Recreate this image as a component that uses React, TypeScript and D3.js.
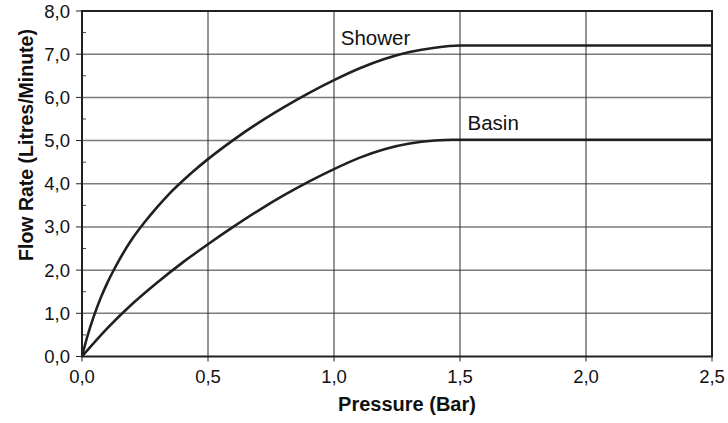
import React, { useRef, useEffect } from 'react';
import * as d3 from 'd3';

// Shower curve (pressure in bar, flow in l/min)
const showerPressure = [0, 0.02, 0.045, 0.073, 0.1, 0.124, 0.16, 0.2, 0.25, 0.3, 0.35, 0.4, 0.45, 0.5, 0.6, 0.7, 0.8, 0.9, 1.0, 1.1, 1.2, 1.3, 1.4, 1.5, 2.5];
const showerFlow = [0, 0.44, 0.9, 1.34, 1.7, 1.98, 2.36, 2.73, 3.12, 3.47, 3.79, 4.07, 4.33, 4.57, 5.01, 5.41, 5.77, 6.1, 6.4, 6.67, 6.89, 7.05, 7.15, 7.2, 7.2];

// Basin curve
const basinPressure = [0, 0.1, 0.2, 0.3, 0.4, 0.5, 0.6, 0.7, 0.8, 0.9, 1.0, 1.1, 1.2, 1.3, 1.4, 1.47, 2.5];
const basinFlow = [0, 0.65, 1.22, 1.72, 2.18, 2.6, 3.0, 3.38, 3.73, 4.05, 4.34, 4.6, 4.8, 4.93, 5.0, 5.02, 5.02];

const xTicks = [0, 0.5, 1.0, 1.5, 2.0, 2.5];
const yTicks = [0, 1, 2, 3, 4, 5, 6, 7, 8];
const yMinorTicks = [0.5, 1.5, 2.5, 3.5, 4.5, 5.5, 6.5, 7.5];

const seriesLabels = [
    { name: "Shower", at: 1.027, value: 7.21 },
    { name: "Basin", at: 1.53, value: 5.24 },
];

const fmt = (v: number) => v.toFixed(1).replace('.', ',');

export default function App() {
    const svgRef = useRef<SVGSVGElement>(null);
    const width = 728;
    const height = 423;

    useEffect(() => {
        if (!svgRef.current) return;
        const svg = d3.select(svgRef.current);
        svg.selectAll("*").remove();

        const margin = { top: 11, right: 16, bottom: 66.5, left: 82 };
        const x = d3.scaleLinear().domain([0, 2.5]).range([margin.left, width - margin.right]);
        const y = d3.scaleLinear().domain([0, 8]).range([height - margin.bottom, margin.top]);
        const font = "'Liberation Sans', Arial, sans-serif";

        // Horizontal grid
        svg.append("g")
            .selectAll("line")
            .data(yTicks.slice(1, -1))
            .enter()
            .append("line")
            .attr("x1", x(0)).attr("x2", x(2.5))
            .attr("y1", d => y(d)).attr("y2", d => y(d))
            .attr("stroke", "#7a7a7a")
            .attr("stroke-width", 1.5);

        // Vertical grid
        svg.append("g")
            .selectAll("line")
            .data(xTicks.slice(1, -1))
            .enter()
            .append("line")
            .attr("x1", d => x(d)).attr("x2", d => x(d))
            .attr("y1", y(0)).attr("y2", y(8))
            .attr("stroke", "#2a2a2a")
            .attr("stroke-width", 1);

        // Y axis ticks
        svg.append("g")
            .selectAll("line")
            .data(yTicks)
            .enter()
            .append("line")
            .attr("x1", x(0) - 6).attr("x2", x(0))
            .attr("y1", d => y(d)).attr("y2", d => y(d))
            .attr("stroke", "#222").attr("stroke-width", 1);

        svg.append("g")
            .selectAll("line")
            .data(yMinorTicks)
            .enter()
            .append("line")
            .attr("x1", x(0)).attr("x2", x(0) + 4)
            .attr("y1", d => y(d)).attr("y2", d => y(d))
            .attr("stroke", "#444").attr("stroke-width", 1);

        // X axis ticks
        svg.append("g")
            .selectAll("line")
            .data(xTicks)
            .enter()
            .append("line")
            .attr("x1", d => x(d)).attr("x2", d => x(d))
            .attr("y1", y(0)).attr("y2", y(0) + 5)
            .attr("stroke", "#222").attr("stroke-width", 1);

        // Curves
        const line = d3.line<[number, number]>()
            .x(d => x(d[0]))
            .y(d => y(d[1]))
            .curve(d3.curveMonotoneX);

        const curves = [
            showerPressure.map((p, i) => [p, showerFlow[i]] as [number, number]),
            basinPressure.map((p, i) => [p, basinFlow[i]] as [number, number]),
        ];

        svg.append("g")
            .selectAll("path")
            .data(curves)
            .enter()
            .append("path")
            .attr("d", d => line(d))
            .attr("fill", "none")
            .attr("stroke", "#231f20")
            .attr("stroke-width", 2.6)
            .attr("stroke-linejoin", "round");

        // Frame
        svg.append("rect")
            .attr("x", x(0)).attr("y", y(8))
            .attr("width", x(2.5) - x(0))
            .attr("height", y(0) - y(8))
            .attr("fill", "none")
            .attr("stroke", "#231f20")
            .attr("stroke-width", 2);

        // Tick labels
        svg.append("g")
            .selectAll("text")
            .data(yTicks)
            .enter()
            .append("text")
            .attr("x", 70)
            .attr("y", d => y(d) + 6.5)
            .attr("text-anchor", "end")
            .style("font-family", font)
            .style("font-size", "18.5px")
            .style("fill", "#111")
            .text(d => fmt(d));

        svg.append("g")
            .selectAll("text")
            .data(xTicks)
            .enter()
            .append("text")
            .attr("x", d => x(d))
            .attr("y", 383)
            .attr("text-anchor", "middle")
            .style("font-family", font)
            .style("font-size", "18.5px")
            .style("fill", "#111")
            .text(d => fmt(d));

        // Series labels
        svg.append("g")
            .selectAll("text")
            .data(seriesLabels)
            .enter()
            .append("text")
            .attr("x", d => x(d.at))
            .attr("y", d => y(d.value))
            .style("font-family", font)
            .style("font-size", "20.5px")
            .style("fill", "#111")
            .text(d => d.name);

        // Axis titles
        svg.append("text")
            .attr("x", 407)
            .attr("y", 411)
            .attr("text-anchor", "middle")
            .style("font-family", font)
            .style("font-size", "20px")
            .style("font-weight", "bold")
            .style("fill", "#111")
            .text("Pressure (Bar)");

        svg.append("text")
            .attr("transform", `translate(33,145) rotate(-90)`)
            .attr("text-anchor", "middle")
            .style("font-family", font)
            .style("font-size", "19.5px")
            .style("font-weight", "bold")
            .style("fill", "#111")
            .text("Flow Rate (Litres/Minute)");
    }, []);

    return (
        <svg
            ref={svgRef}
            width={width}
            height={height}
            style={{ position: 'absolute', left: 0, top: 0, background: '#fff' }}
        />
    );
}
